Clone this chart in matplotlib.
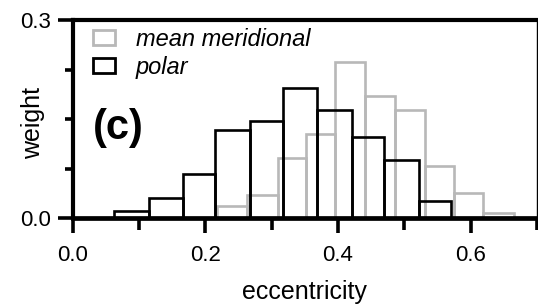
import numpy as np
import matplotlib
matplotlib.use("Agg")
import matplotlib.pyplot as plt

# ---- data ----
# polar distribution (black outline)
polar_edges = [0.0624, 0.1148, 0.1660, 0.2150, 0.2678, 0.3170,
               0.3686, 0.4215, 0.4700, 0.5220, 0.5710]
polar_weights = [0.011, 0.031, 0.068, 0.134, 0.147, 0.197,
                 0.165, 0.124, 0.0885, 0.026]

# mean meridional distribution (grey outline)
merid_edges = [0.2184, 0.2628, 0.3090, 0.3524, 0.3962, 0.4415,
               0.4858, 0.5311, 0.5749, 0.6193, 0.6647]
merid_weights = [0.019, 0.0354, 0.092, 0.128, 0.2367, 0.1856,
                 0.164, 0.0794, 0.0389, 0.0076]

x_major = [0.0, 0.2, 0.4, 0.6]
x_minor = [0.1, 0.3, 0.5, 0.7]
y_major = [0.0, 0.3]
y_minor = [0.075, 0.15, 0.225]

plt.rcParams["font.family"] = ["Liberation Sans", "DejaVu Sans"]

fig = plt.figure(figsize=(5.38, 3.05), dpi=100)
ax = fig.add_axes([0.135, 0.284, 0.863, 0.649])

grey = "#b8b8b8"
me = np.array(merid_edges)
ax.bar(me[:-1], merid_weights, width=np.diff(me), align="edge",
       fill=False, edgecolor=grey, linewidth=1.9, label="mean meridional")
pe = np.array(polar_edges)
ax.bar(pe[:-1], polar_weights, width=np.diff(pe), align="edge",
       fill=False, edgecolor="black", linewidth=1.9, label="polar")

ax.set_xlim(0, 0.7)
ax.set_ylim(0, 0.3)

ax.set_xticks(x_major)
ax.set_xticklabels(["%.1f" % v for v in x_major])
ax.set_xticks(x_minor, minor=True)
ax.set_yticks(y_major)
ax.set_yticklabels(["%.1f" % v for v in y_major])
ax.set_yticks(y_minor, minor=True)

ax.tick_params(axis="x", which="major", direction="out", length=10.5, width=2.6,
               labelsize=16, pad=9)
ax.tick_params(axis="x", which="minor", direction="out", length=8.5, width=2.6)
ax.tick_params(axis="y", which="major", direction="out", length=10.5, width=2.6,
               labelsize=16, pad=5)
ax.tick_params(axis="y", which="minor", direction="out", length=6, width=2.6)

ax.spines["left"].set_linewidth(3.0)
ax.spines["bottom"].set_linewidth(3.4)
ax.spines["top"].set_linewidth(3.0)
ax.spines["right"].set_linewidth(1.0)

ax.set_xlabel("eccentricity", fontsize=18, labelpad=10)
ax.set_ylabel("weight", fontsize=18)
ax.yaxis.set_label_coords(-0.06, 0.48)

ax.text(0.044, 0.456, "(c)", transform=ax.transAxes, fontsize=30,
        fontweight="bold", va="center", ha="left")

leg = ax.legend(loc="upper left", bbox_to_anchor=(0.044, 0.963), frameon=False,
                prop={"style": "italic", "size": 17},
                handlelength=0.95, handleheight=0.63, handletextpad=0.85,
                borderpad=0, borderaxespad=0, labelspacing=0.22)
for h in leg.legend_handles:
    h.set_linewidth(2.0)

fig.savefig("out.png", dpi=100)
